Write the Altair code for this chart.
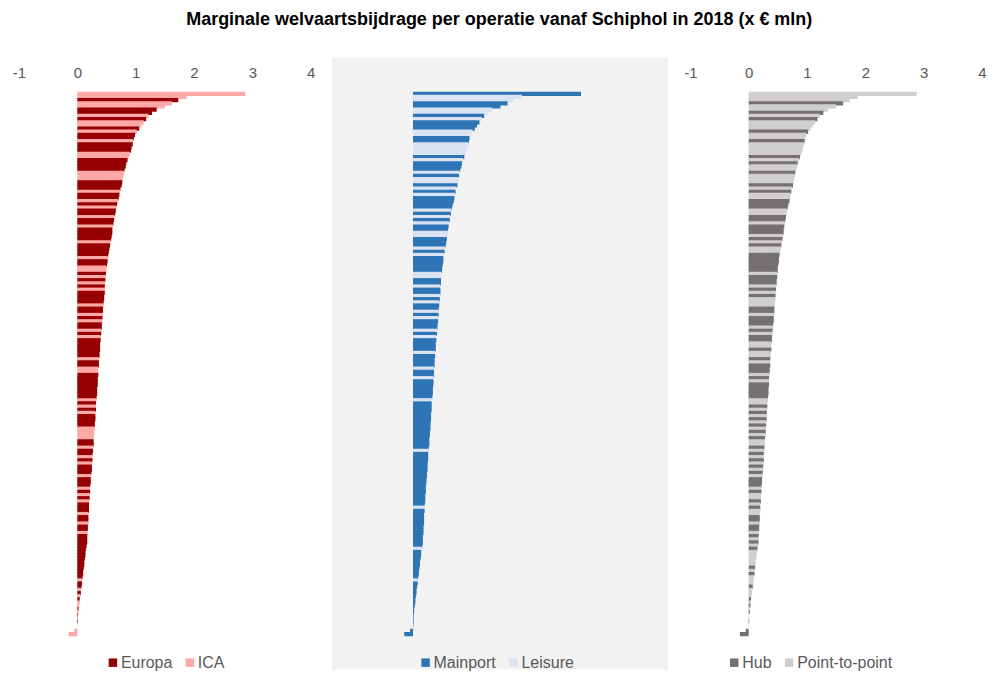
import altair as alt
import pandas as pd

# Marginal welfare contribution per operation (x EUR mln), sorted descending
values = [
    2.88, 1.87, 1.73, 1.62, 1.50, 1.36, 1.28, 1.22, 1.18, 1.14,
    1.10, 1.06, 1.02, 0.99, 0.97, 0.96, 0.95, 0.93, 0.92, 0.90,
    0.88, 0.86, 0.84, 0.83, 0.81, 0.80, 0.79, 0.78, 0.77, 0.76,
    0.74, 0.73, 0.72, 0.71, 0.70, 0.68, 0.67, 0.66, 0.65, 0.64,
    0.63, 0.62, 0.61, 0.60, 0.60, 0.59, 0.58, 0.57, 0.56, 0.55,
    0.54, 0.53, 0.52, 0.52, 0.51, 0.50, 0.50, 0.49, 0.49, 0.48,
    0.48, 0.47, 0.47, 0.47, 0.46, 0.46, 0.45, 0.45, 0.44, 0.44,
    0.44, 0.43, 0.43, 0.42, 0.42, 0.41, 0.41, 0.40, 0.40, 0.39,
    0.39, 0.39, 0.38, 0.38, 0.37, 0.37, 0.37, 0.36, 0.36, 0.36,
    0.35, 0.35, 0.35, 0.34, 0.34, 0.34, 0.33, 0.33, 0.32, 0.32,
    0.32, 0.31, 0.31, 0.31, 0.30, 0.30, 0.30, 0.29, 0.29, 0.28,
    0.28, 0.28, 0.27, 0.27, 0.26, 0.26, 0.26, 0.25, 0.25, 0.25,
    0.24, 0.24, 0.23, 0.23, 0.22, 0.22, 0.22, 0.21, 0.21, 0.21,
    0.20, 0.20, 0.20, 0.19, 0.19, 0.19, 0.19, 0.18, 0.18, 0.18,
    0.17, 0.17, 0.17, 0.16, 0.15, 0.14, 0.14, 0.13, 0.12, 0.12,
    0.11, 0.10, 0.10, 0.09, 0.08, 0.08, 0.07, 0.06, 0.06, 0.05,
    0.04, 0.04, 0.03, 0.02, 0.02, 0.01, 0.01, 0.01, 0.005, 0.003,
    -0.05, -0.15,
]

# Classification per operation (one character per bar, same order as values)
# E = Europa, I = ICA
region_codes = (
    "IIEIIEEIEI" "IEIEEIEEEI" "IEEEEIIIEE" "EIEEIEIEEI" "EEIEEEEIEE"
    "EEIEEIIEIE" "IEIEEEEIEE" "IEIEEIEIEE" "EEEEIEEIIE" "EEEEEEEIEI"
    "EIEEEEIIII" "EEIEEIEIEE" "EIEEEIEIEI" "EEEIEEIEEI" "EEEEEEEEEE"
    "EEEEIEEIEI" "EIIEIEIEII" "II"
)
# M = Mainport, L = Leisure
purpose_codes = (
    "MLLMMLLMLM" "MMLLMMLLLL" "MLMMMLMLLM" "LMLMMMMLML" "MLMMLLMMML"
    "MLMMMMMLLM" "MLMMLMLMML" "MLMMMLMLMM" "MMLMMMMLMM" "LMMMMMMLMM"
    "MMMMMMMMMM" "MMMLMMMMMM" "MMMMMMMMMM" "MLMMMMMMMM" "MMMMLMMMMM"
    "MMMMLMMMMM" "MMMMMMMMMM" "MM"
)
# H = Hub, P = Point-to-point
network_codes = (
    "PPPHPPHPHP" "PPHPPHPPPP" "HPHPPHPPPH" "PHPPHHHPPH" "HPHHHPHPHP"
    "PHHHHHHPHH" "HPHPHPPPHH" "PHHHPHPHHP" "PHPPHPHHHP" "HPHHHHHPPH"
    "PHPHPHPHPH" "PPHPHPHPHP" "HPHHHPHPPH" "PHPPHHPHHP" "HPHPHPPPPP"
    "HPHPPPHPPP" "HPHPHPPHPP" "HH"
)

region_names = {"E": "Europa", "I": "ICA"}
purpose_names = {"M": "Mainport", "L": "Leisure"}
network_names = {"H": "Hub", "P": "Point-to-point"}

df = pd.DataFrame({
    "rank": list(range(len(values))),
    "value": values,
    "regio": [region_names[c] for c in region_codes],
    "motief": [purpose_names[c] for c in purpose_codes],
    "netwerk": [network_names[c] for c in network_codes],
})

FONT = "Liberation Sans"
W, H = 292, 544


def panel(field, domain, colors, legend_x, background=None):
    bars = alt.Chart(df).mark_bar(
        strokeWidth=0, height=alt.RelativeBandSize(band=1.35)
    ).encode(
        x=alt.X(
            "value:Q",
            scale=alt.Scale(domain=[-1, 4], nice=False, zero=False),
            axis=alt.Axis(
                orient="top", values=[-1, 0, 1, 2, 3, 4], title=None,
                grid=False, domain=False, ticks=False, labelFlush=False,
                labelFontSize=15, labelColor="#595959", labelFont=FONT,
                labelPadding=12, labelExpr="'' + datum.value",
            ),
        ),
        y=alt.Y("rank:O", axis=None,
                scale=alt.Scale(paddingInner=0, paddingOuter=0)),
        color=alt.Color(
            f"{field}:N",
            scale=alt.Scale(domain=domain, range=colors),
            legend=alt.Legend(
                orient="none", legendX=legend_x, legendY=H + 19,
                direction="horizontal", title=None,
                symbolType="square", symbolSize=72, symbolStrokeWidth=0,
                labelFontSize=16, labelColor="#595959", labelFont=FONT,
                columnPadding=9, labelOffset=0,
            ),
        ),
    )
    if background is None:
        return bars.properties(width=W, height=H)
    bg = alt.Chart(pd.DataFrame({"k": [0]})).mark_rect(
        fill=background, strokeWidth=0
    ).encode(
        x=alt.value(-23), x2=alt.value(W + 22),
        y=alt.value(-35), y2=alt.value(H + 34),
    )
    return alt.layer(bg, bars).properties(width=W, height=H)


p1 = panel("regio", ["Europa", "ICA"], ["#960000", "#ffa8a8"], 86)
p2 = panel("motief", ["Mainport", "Leisure"], ["#2e75b6", "#dae3f3"], 63,
           background="#f2f2f2")
p3 = panel("netwerk", ["Hub", "Point-to-point"], ["#767171", "#d0cece"], 36)

chart = alt.hconcat(p1, p2, p3, spacing=44, bounds="flush").resolve_scale(
    color="independent"
).properties(
    title=alt.Title(
        "Marginale welvaartsbijdrage per operatie vanaf Schiphol in 2018 (x € mln)",
        fontSize=18, font=FONT, fontWeight="bold", color="#000000",
        anchor="middle", offset=28,
    ),
    padding={"left": 4, "right": 0, "top": 3, "bottom": 0},
).configure(font=FONT, view=alt.ViewConfig(stroke=None))

chart.save("out.html", embed_options={"renderer": "svg", "actions": False})
